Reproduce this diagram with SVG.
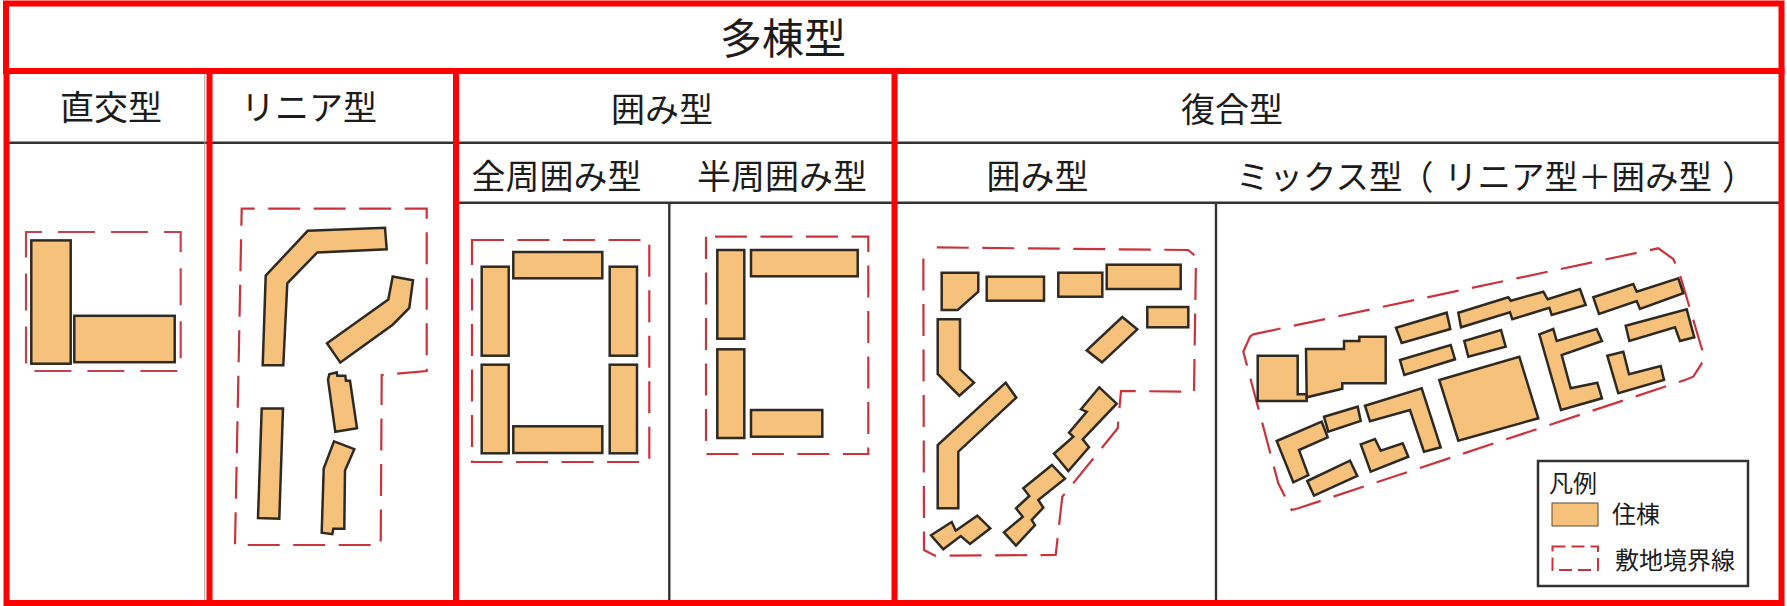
<svg xmlns="http://www.w3.org/2000/svg" width="1787" height="606" viewBox="0 0 1787 606">
<style>
text{font-family:"Noto Sans CJK JP","Noto Sans CJK SC",sans-serif;fill:#1c1c1c;text-anchor:middle;font-weight:400}
.h{font-size:34px}
.t{font-size:42px}
.m{font-size:33.5px;text-anchor:start}
.l{font-size:24px;text-anchor:start}
.b{fill:#F6C17B;stroke:#2E2A22;stroke-width:2.5;stroke-linejoin:miter}
.d{fill:none;stroke:#CB333C;stroke-width:2.200;stroke-dasharray:32 13.500}
.g{stroke:#333;stroke-width:2.400;fill:none}
.r{stroke:#FF0000;stroke-width:6;fill:none}
</style>
<rect width="1787" height="606" fill="#fff"/>
<g id="grid">
<path class="g" d="M6 142.700H1781M458 202.800H1781M669.300 203V603M1216 203V603"/>
<path d="M204.800 72V603" stroke="#a0a0a0" stroke-width="1" fill="none"/>
</g>
<g id="title"><text class="t" x="783" y="54">多棟型</text></g>
<g id="headers">
<text class="h" x="111" y="120">直交型</text>
<text class="h" x="309" y="120">リニア型</text>
<text class="h" x="662" y="122">囲み型</text>
<text class="h" x="1232" y="122">復合型</text>
<text class="h" x="556.500" y="189">全周囲み型</text>
<text class="h" x="782" y="189">半周囲み型</text>
<text class="h" x="1037.500" y="189">囲み型</text>
<text class="m" y="189"><tspan x="1236">ミックス型</tspan><tspan x="1400">（</tspan><tspan x="1444">リニア型＋囲み型</tspan><tspan x="1722">）</tspan></text>
</g>
<g id="orthogonal">
<rect class="d" x="26" y="232" width="154.700" height="139" style="stroke:#C8404F;stroke-dasharray:37 16;stroke-dashoffset:21"/>
<rect class="b" x="31.300" y="240.400" width="39.400" height="123.300"/>
<rect class="b" x="74.300" y="315.800" width="100.400" height="46.400"/>
</g>
<g id="linear">
<polygon class="d" style="stroke-dashoffset:19" points="241.700,208.700 426.700,208.700 426.700,371 381.700,375 380.700,545 235,545"/>
<polygon class="b" points="265.700,275.600 307.700,230.800 385,227.700 386.700,249.300 317.300,252.400 287.300,283.300 283.300,365.300 262.700,365.300"/>
<polygon class="b" points="392.700,276.400 413,280.200 409.300,308 392.700,324.700 340.300,362.600 327,343.300 388.300,299.600"/>
<polygon class="b" points="329.300,374.200 336.700,372.200 337.300,375.700 345.300,375.700 346,380.800 350,380.800 357,428.300 335.300,431.800 328,379.600"/>
<polygon class="b" points="261.700,408.600 283,408.600 279.300,518.800 258,518"/>
<polygon class="b" points="334,441.400 354.300,449.200 345,470.400 344.300,528.800 333.300,528.800 332.300,534.200 321.700,532.700 323.700,468.500"/>
</g>
<g id="full-enclosure">
<rect class="d" x="472" y="240" width="177.300" height="222"/>
<rect class="b" x="481.700" y="266.700" width="27" height="89"/>
<rect class="b" x="481.700" y="364.700" width="27" height="88.600"/>
<rect class="b" x="513.300" y="252" width="89" height="26.300"/>
<rect class="b" x="513.300" y="426.300" width="89" height="26.700"/>
<rect class="b" x="609.700" y="266.700" width="27.300" height="89"/>
<rect class="b" x="609.700" y="364.700" width="27.300" height="88.600"/>
</g>
<g id="half-enclosure">
<rect class="d" style="stroke-dashoffset:36.500" x="706" y="236.700" width="162.300" height="217.300"/>
<rect class="b" x="717.300" y="250" width="27" height="88.700"/>
<rect class="b" x="717.300" y="349.300" width="27" height="88.700"/>
<rect class="b" x="751" y="250" width="106.700" height="26.300"/>
<rect class="b" x="751" y="410" width="71.300" height="26.700"/>
</g>
<g id="composite-enclosure">
<polygon class="d" style="stroke-dashoffset:32" points="923.300,247.300 1188.300,250 1196,256.700 1194,391.700 1121,391 1117.700,428.300 1062.300,496.700 1055.700,555 935,555.700 924,550"/>
<polygon class="b" points="941.700,272.700 978.300,272.700 978.300,291.700 957.700,310 941.700,310"/>
<rect class="b" x="986.700" y="276.700" width="57.300" height="24"/>
<rect class="b" x="1058.300" y="272.700" width="44" height="24"/>
<rect class="b" x="1106.700" y="264.700" width="74" height="24.300"/>
<rect class="b" x="1147.300" y="307" width="41" height="20.300"/>
<polygon class="b" points="1122.300,317 1137.300,329.300 1102,362.300 1086.700,350.300"/>
<polygon class="b" points="937.700,319.300 960,319.300 960,369.300 974,382.700 959.300,395.700 937.700,374"/>
<polygon class="b" points="1005.700,382.700 1016.300,397.700 958.300,451.700 958.300,508.300 937.700,508.300 937.700,445"/>
<polygon class="b" points="1099.300,387.300 1116.700,403.700 1082.700,439.300 1089,447.300 1068.300,471 1054,453.700 1073.300,436.700 1069,432.700 1086.700,411.700 1081,409.300"/>
<polygon class="b" points="1052,465 1065,478.700 1038.300,500 1043.300,507.700 1031.700,520 1035,525 1016,545.700 1004,532.300 1022.700,516.700 1016,508.300 1029.300,496 1023.300,488.300"/>
<polygon class="b" points="931,535.300 951.700,522 955.700,530.700 977.300,515.700 990.300,528.300 970,544 960.700,536 943.300,549.300"/>
</g>
<g id="composite-mix">
<polygon class="d" points="1250,336.700 1253.300,334.300 1658.300,248.300 1673.300,259 1679,271.700 1700.700,345 1705,358.300 1693.300,376.700 1685,380 1298.300,508.300 1291.700,510 1278.300,483.300 1243.300,351.700"/>
<polygon class="b" points="1257.700,355.700 1297.700,355.700 1297.700,394.300 1306.700,394.300 1306.700,401 1257.700,401"/>
<polygon class="b" points="1306,349 1344,349 1344,341 1359.300,341 1359.300,336.700 1385.700,336.700 1385.700,383.300 1342.300,383.300 1342.300,388.700 1306.700,397.300"/>
<polygon class="b" points="1396,327.700 1446.700,312.700 1450.300,329 1401.700,343"/>
<polygon class="b" points="1400,360 1450.700,345 1455,359.300 1404.300,375"/>
<polygon class="b" points="1458.300,312.700 1508.300,297.300 1510.700,300.700 1543.300,291.700 1547.700,299.300 1580,289 1585.700,305 1551.700,315 1549.300,307.700 1512.300,319.300 1510,312.300 1461,327.300"/>
<polygon class="b" points="1464.300,341 1501,330 1505.700,346.700 1468.300,356.700"/>
<polygon class="b" points="1439.300,380 1519.300,356.700 1538.300,418.300 1458.300,440.700"/>
<polygon class="b" points="1276.700,441 1321.700,421.700 1327.700,437.300 1299,450 1308.300,475 1293.300,482.300"/>
<polygon class="b" points="1324,416.700 1357.700,406.700 1360.700,421 1328.300,431.700"/>
<polygon class="b" points="1307.300,481 1350,460.700 1357.300,476 1314,495.700"/>
<polygon class="b" points="1360.700,444.300 1375,439 1380.700,450.700 1402.700,443.300 1408.300,456.700 1370.700,471.700"/>
<polygon class="b" points="1365,405.700 1421.700,388.300 1440.700,447.300 1424,451.700 1410,410 1370,421.300"/>
<polygon class="b" points="1539.300,334.300 1553.300,329 1556.700,341 1596.700,329 1602,341 1561.700,355 1570.700,388.300 1597.300,382.700 1602,398.300 1561,410"/>
<polygon class="b" points="1607.300,355.700 1623.300,351.700 1629,374.300 1660.700,366 1664,380 1618.300,393.300"/>
<polygon class="b" points="1593.300,297.300 1633.300,284 1636.700,291.700 1678.300,278.300 1683.300,293.300 1640,309 1636.700,301 1599,314"/>
<polygon class="b" points="1625.700,325.700 1686.700,309.300 1694.300,337.300 1680,341 1675,327.300 1629.300,341"/>
</g>
<g id="legend">
<rect x="1538" y="461" width="210" height="125" fill="#fff" stroke="#333" stroke-width="2.500"/>
<text class="l" x="1549" y="492">凡例</text>
<rect x="1552" y="503" width="46" height="23" fill="#F6C17B" stroke="#5a4a30" stroke-width="1"/>
<text class="l" x="1612" y="523">住棟</text>
<rect x="1552.500" y="546.500" width="45.500" height="23.500" fill="none" stroke="#CB333C" stroke-width="2" stroke-dasharray="13 6"/>
<text class="l" x="1615" y="569">敷地境界線</text>
</g>
<g id="frame">
<rect class="r" x="6" y="3.500" width="1775.500" height="67.500"/>
<rect class="r" x="6.500" y="71" width="1775" height="532"/>
<path class="r" d="M209.500 71V603M456 71V603M894.500 71V603"/>
</g>
</svg>
